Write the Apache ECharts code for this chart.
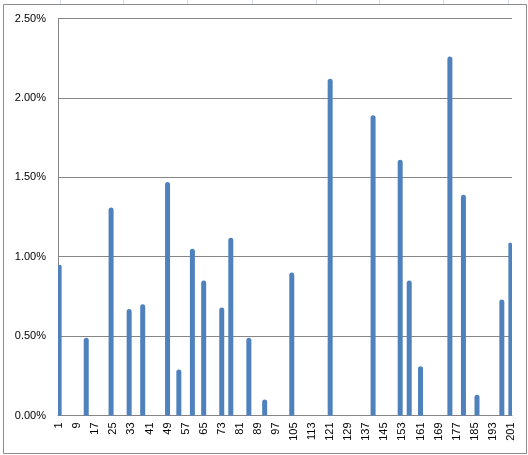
<!DOCTYPE html>
<html>
<head>
<meta charset="utf-8">
<script src="https://cdn.jsdelivr.net/npm/echarts@6/dist/echarts.min.js"></script>
<style>
html,body{margin:0;padding:0;background:#fff;}
#chart{width:528px;height:455px;}
</style>
</head>
<body>
<div id="chart"></div>
<script>
// category count (labels 1..201)
var categoryCount = 201;
// positions (category numbers) of the non-zero bars
var barPositions = [1, 13, 24, 32, 38, 49, 54, 60, 65, 73, 77, 85, 92, 104, 121, 140, 152, 156, 161, 174, 180, 186, 197, 201];
// values in percent
var barValues = [0.95, 0.49, 1.31, 0.67, 0.70, 1.47, 0.29, 1.05, 0.85, 0.68, 1.12, 0.49, 0.10, 0.90, 2.12, 1.89, 1.61, 0.85, 0.31, 2.26, 1.39, 0.13, 0.73, 1.09];
var yTicks = [0, 0.5, 1.0, 1.5, 2.0, 2.5];

var categories = [];
var data = [];
for (var i = 1; i <= categoryCount; i++) { categories.push(String(i)); data.push(0); }
for (var j = 0; j < barPositions.length; j++) { data[barPositions[j] - 1] = barValues[j]; }

var font = 'Liberation Sans, Arial, sans-serif';
var chart = echarts.init(document.getElementById('chart'), null, {renderer: 'canvas'});
var topLines = [];
[60, 123, 187, 252, 316, 379, 443, 508].forEach(function (x) {
  topLines.push({type: 'line', shape: {x1: x + 0.5, y1: 0, x2: x + 0.5, y2: 4}, style: {stroke: '#d0d7e5', lineWidth: 1}, silent: true});
});
chart.setOption({
  animation: false,
  backgroundColor: '#fff',
  graphic: topLines.concat([{
    type: 'rect', shape: {x: 3.5, y: 4.5, width: 523, height: 449},
    style: {fill: 'none', stroke: '#8c8c8c', lineWidth: 1}, silent: true, z: -1
  }]),
  grid: {left: 58, top: 18.5, width: 454, height: 397},
  xAxis: {
    type: 'category',
    data: categories,
    boundaryGap: true,
    axisLine: {lineStyle: {color: '#868686', width: 1}},
    axisTick: {interval: 0, length: 3, lineStyle: {color: '#868686'}},
    axisLabel: {interval: 7, rotate: 90, margin: 7, color: '#000', fontFamily: font, fontSize: 11}
  },
  yAxis: {
    type: 'value',
    min: yTicks[0], max: yTicks[yTicks.length - 1], interval: 0.5,
    axisLine: {show: true, lineStyle: {color: '#868686', width: 1}},
    axisTick: {show: false},
    splitLine: {lineStyle: {color: '#868686', width: 1}},
    axisLabel: {margin: 12, color: '#000', fontFamily: font, fontSize: 11,
      formatter: function (v) { return v.toFixed(2) + '%'; }}
  },
  series: [{
    type: 'bar',
    data: data,
    barWidth: 5,
    itemStyle: {color: '#4f81bd', borderRadius: [2.5, 2.5, 0, 0]}
  }]
});
</script>
</body>
</html>
